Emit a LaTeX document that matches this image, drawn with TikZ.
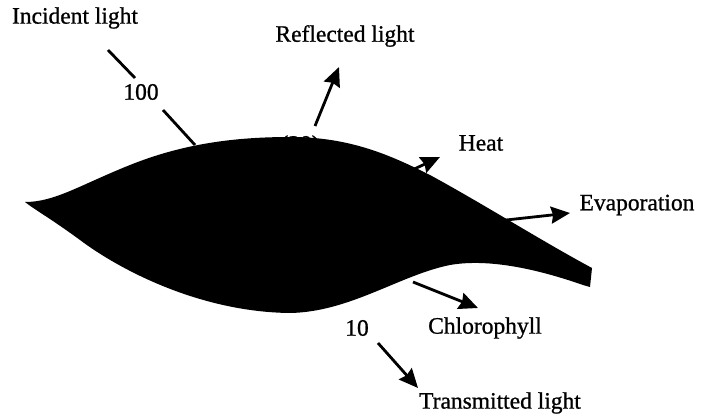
\documentclass[tikz,border=0pt]{standalone}
\usepackage{fontspec}
\setmainfont{Liberation Serif}[BoldFont=Liberation Serif,BoldFeatures={FakeBold=0.9}]
\usetikzlibrary{arrows.meta}
\begin{document}
\begin{tikzpicture}[x=1pt,y=-1pt,
  lbl/.style={inner sep=0pt,font=\fontsize{23.5}{26}\selectfont\bfseries},
  flow/.style={line width=2.8pt,-{Triangle[length=19pt,width=17pt,inset=2pt]}},
  ray/.style={line width=2.8pt}]
\useasboundingbox (0,0) rectangle (709,415);

% value partly hidden behind the leaf
\node[lbl] (twenty) at (300,146) {(20)};

% the leaf blade with its stalk
\fill[black] (25,202) .. controls (55,202) and (80,185) .. (130,165)
  .. controls (180,145) and (230,137) .. (290,137)
  .. controls (350,137) and (390,155) .. (430,175)
  .. controls (485,205) and (540,240) .. (592,268)
  -- (590,287) -- (583,285)
  .. controls (540,270) and (490,258) .. (450,265)
  .. controls (400,275) and (350,312) .. (290,313)
  .. controls (200,312) and (120,270) .. (80,240)
  .. controls (50,218) and (35,210) .. cycle;

% labels
\node[lbl] (incident) at (75,18) {Incident light};
\node[lbl] (hundred) at (141,92) {100};
\node[lbl] (reflected) at (345,36) {Reflected light};
\node[lbl] (heat) at (481,143) {Heat};
\node[lbl] (evap) at (637,205) {Evaporation};
\node[lbl] (chloro) at (485,328) {Chlorophyll};
\node[lbl] (ten) at (357,328) {10};
\node[lbl] (trans) at (500,403) {Transmitted light};

% end points of the flows
\coordinate (inA) at (108,50);
\coordinate (inB) at (135,78);
\coordinate (inC) at (163,110);
\coordinate (inD) at (195,145);
\coordinate (refA) at (315,126);
\coordinate (refB) at (339,67);
\coordinate (heatA) at (410,171);
\coordinate (heatB) at (440,157);
\coordinate (evA) at (497,221);
\coordinate (evB) at (570,213);
\coordinate (chA) at (413,282);
\coordinate (chB) at (478,308);
\coordinate (trA) at (378,343);
\coordinate (trB) at (418,388);

% incident beam, broken by its value
\draw[ray] (inA) -- (inB);
\draw[ray] (inC) -- (inD);

% outgoing flows
\draw[flow] (refA) -- (refB);
\draw[flow] (heatA) -- (heatB);
\draw[flow] (evA) -- (evB);
\draw[flow] (chA) -- (chB);
\draw[flow] (trA) -- (trB);
\end{tikzpicture}
\end{document}
